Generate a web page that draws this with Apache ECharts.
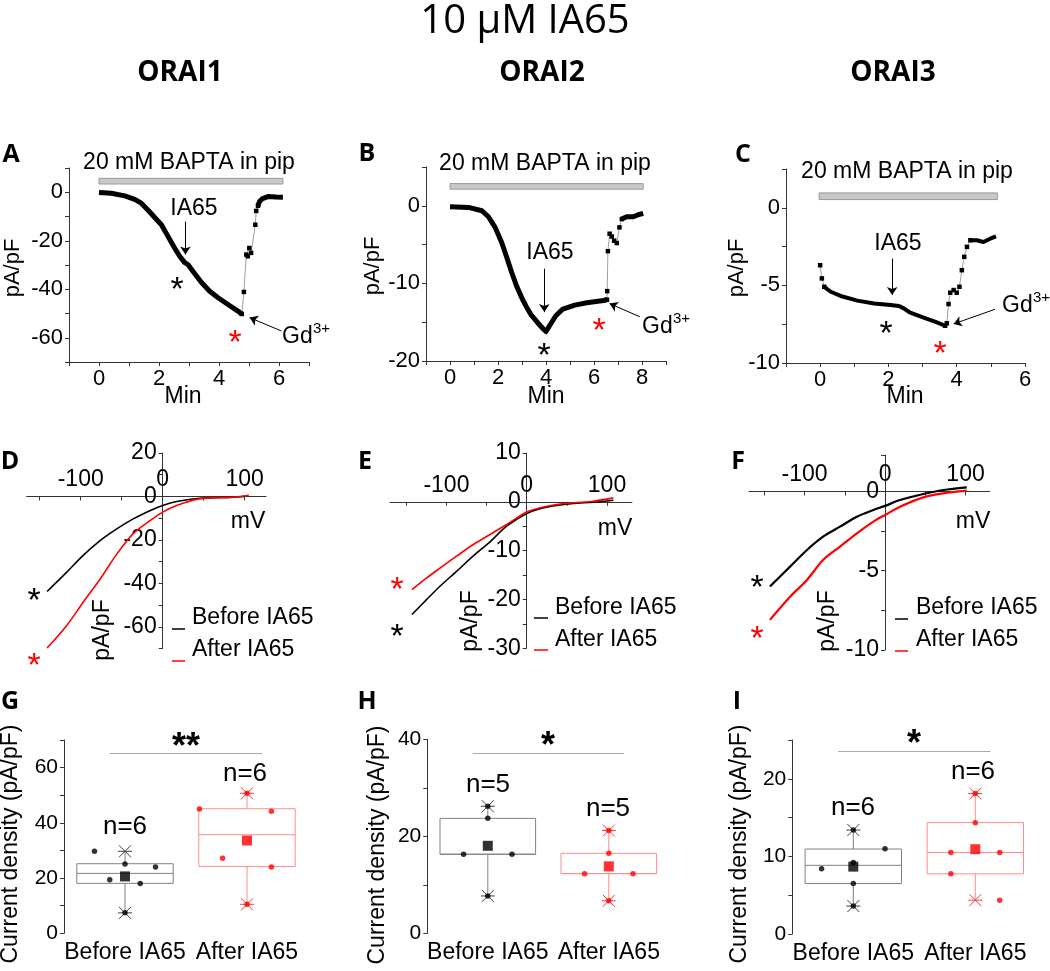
<!DOCTYPE html>
<html lang="en">
<head>
<meta charset="UTF-8" />
<title>10 μM IA65</title>
<script src="https://cdn.jsdelivr.net/npm/echarts@6.0.0/dist/echarts.min.js"></script>
<style>
  html, body { margin: 0; padding: 0; background: #fff; }
  #chart { width: 1050px; height: 971px; }
</style>
</head>
<body>
<div id="chart"></div>
<script>
// ---------- data ----------
// time courses, [min, pA/pF]
const orai1Trace = [[0,-0.15],[0.41,-0.42],[0.86,-1.5],[1.19,-2.9],[1.41,-4.5],[1.63,-7.3],[1.85,-10.3],[2.08,-13.4],[2.3,-18.2],[2.52,-23],[2.69,-26.4],[2.85,-28.9],[2.97,-29.9],[3.13,-32.6],[3.41,-37.1],[3.69,-40.8],[3.97,-43.5],[4.3,-46.3],[4.63,-49],[4.76,-50.2]];
const orai1Gd = [[4.76,-50.2],[4.83,-41.1],[4.91,-25.7],[4.96,-26.4],[5.01,-23],[5.07,-25],[5.21,-13.4],[5.24,-7.7],[5.3,-5.6]];
const orai1Tail = [[5.3,-5.6],[5.35,-3.8],[5.45,-2.6],[5.63,-1.8],[5.9,-2.0],[6.13,-2.07]];

const orai2Trace = [[0,-0.13],[0.78,-0.21],[1.33,-0.64],[1.6,-1.41],[1.88,-2.78],[2.15,-4.7],[2.36,-6.6],[2.56,-8.5],[2.77,-10.3],[2.98,-11.8],[3.18,-13.0],[3.39,-14.1],[3.66,-15.1],[3.9,-15.9],[4.0,-16.2],[4.2,-15.2],[4.4,-14.2],[4.7,-13.3],[5.2,-12.8],[5.7,-12.5],[6.4,-12.2],[6.54,-12.1]];
const orai2Gd = [[6.54,-12.1],[6.55,-11.0],[6.58,-5.85],[6.65,-3.6],[6.74,-3.96],[6.84,-4.5],[6.95,-4.8],[7.06,-2.78],[7.16,-1.71]];
const orai2Tail = [[7.16,-1.71],[7.36,-1.41],[7.64,-1.41],[7.84,-1.15],[8.05,-0.98]];

const orai3Start = [[0,-3.7],[0.05,-4.55],[0.12,-5.09]];
const orai3Trace = [[0.12,-5.09],[0.31,-5.41],[0.6,-5.68],[1.09,-5.98],[1.58,-6.16],[2.06,-6.26],[2.31,-6.33],[2.45,-6.48],[2.64,-6.76],[3.03,-7.07],[3.42,-7.39],[3.66,-7.6]];
const orai3Gd = [[3.66,-7.6],[3.71,-7.44],[3.76,-6.2],[3.81,-5.47],[3.91,-5.3],[4.0,-5.47],[4.08,-5.09],[4.15,-4.02],[4.22,-3.16],[4.3,-2.52],[4.4,-2.09]];
const orai3Tail = [[4.4,-2.09],[4.59,-2.09],[4.78,-2.2],[4.98,-1.99],[5.15,-1.84]];

// I-V curves, [mV, pA/pF]
const ivBefore1 = [[-141,-43.7],[-117,-34.8],[-97,-27.1],[-76,-20.2],[-56,-14.9],[-36,-10.3],[-15,-6.4],[0,-4.1],[17,-2.3],[45,-0.8],[86,-0.3],[100,0]];
const ivAfter1 = [[-141,-69.7],[-117,-59.3],[-97,-48.6],[-76,-37.8],[-56,-26.5],[-36,-17.1],[-15,-11],[0,-7.2],[17,-4.1],[45,-1.1],[86,-0.3],[105,0.6]];
const ivBefore2 = [[-143,-23.1],[-124.5,-20],[-108,-17.3],[-87,-14.2],[-66.5,-11.1],[-45.7,-8.2],[-25,-5.0],[0,-2.4],[16.6,-1.4],[37,-0.76],[58,-0.35],[83,-0.07],[108,0.33]];
const ivAfter2 = [[-143,-18.0],[-124.5,-15.6],[-108,-13.6],[-87,-11.1],[-66.5,-8.75],[-45.7,-6.7],[-25,-4.65],[0,-2.1],[16.6,-1.23],[37,-0.55],[58,-0.2],[83,0.12],[108,0.8]];
const ivBefore3 = [[-143,-6.0],[-118,-4.74],[-97,-3.69],[-77,-2.85],[-56,-2.22],[-35,-1.59],[-14.5,-1.17],[0,-0.91],[18.6,-0.54],[47.6,-0.16],[72.5,0.09],[101.5,0.26]];
const ivAfter3 = [[-143,-8.1],[-118,-6.64],[-97,-5.58],[-77,-4.32],[-56,-3.48],[-35,-2.64],[-14.5,-1.9],[0,-1.48],[18.6,-0.96],[47.6,-0.37],[72.5,-0.12],[101.5,0.05]];
const ivLabels = [-100, 0, 100];
const ivTicks = [-150, -100, -50, 0, 50, 100];

// current density per cell, pA/pF
const groups = ['Before IA65', 'After IA65'];
const orai1Before = [29.7, 19.4, 25.1, 18.0, 24.0, 7.4];
const orai1After = [45.0, 27.2, 50.7, 10.5, 44.2, 24.0];
const orai2Before = [16.3, 23.7, 16.3, 26.2, 7.7];
const orai2After = [12.3, 16.5, 12.3, 21.2, 6.7];
const orai3Before = [8.4, 13.4, 9.2, 6.5, 3.6, 11.0];
const orai3After = [10.5, 7.75, 14.35, 18.1, 10.5, 4.36];
// box [Q1, median, Q3] as drawn
const orai1Quart = [[18.1, 21.7, 25.2], [24.2, 35.7, 45.1]];
const orai2Quart = [[16.3, 16.3, 23.7], [12.3, 12.3, 16.5]];
const orai3Quart = [[6.5, 8.85, 10.95], [7.75, 10.5, 14.35]];
// sideways spread of the single points inside a group slot
const orai1Spread = [[-0.25, -0.125, 0, 0.125, 0.25, 0], [-0.39, -0.2, 0, 0, 0.2, 0.2]];
const orai2Spread = [[-0.2, 0, 0.2, 0, 0], [-0.2, 0, 0.2, 0, 0]];
const orai3Spread = [[-0.26, 0, 0, 0, 0, 0.26], [-0.2, -0.2, 0, 0, 0.2, 0.2]];

// ---------- layout ----------
const grids = [
  { left: 69, top: 168, width: 240, height: 194 },
  { left: 426, top: 167, width: 240, height: 194 },
  { left: 786, top: 169, width: 239, height: 194 },
  { left: 26.6, top: 453, width: 239.4, height: 195.7 },
  { left: 390.2, top: 453, width: 241.7, height: 195.2 },
  { left: 749, top: 455, width: 240.7, height: 195 },
  { left: 64, top: 740, width: 244, height: 193.3 },
  { left: 427.3, top: 739.3, width: 242, height: 194 },
  { left: 792.3, top: 740, width: 244, height: 194 }
];

// ---------- helpers ----------
const FONT = '"Liberation Sans", Arial, sans-serif';
const HEAD = '"Open Sans", "Noto Sans", sans-serif';
const AX = '#333';
const RED = '#ff0000';

const every = (step) => (v) => (Math.abs(v % step) < 1e-9 ? String(v) : '');
const mean = (a) => a.reduce((s, v) => s + v, 0) / a.length;

function timeX(i, min, max) {
  return {
    gridIndex: i, type: 'value', min, max, interval: 1,
    axisLine: { show: true, onZero: false, lineStyle: { color: AX } },
    axisTick: { show: true, length: 4, lineStyle: { color: AX } },
    axisLabel: { fontSize: 22, fontFamily: FONT, color: '#000', margin: 6, formatter: every(2) },
    splitLine: { show: false }
  };
}
function valueY(i, min, max, interval, step, size, offset) {
  return {
    gridIndex: i, type: 'value', min, max, interval, offset: offset || 0,
    axisLine: { show: true, onZero: false, lineStyle: { color: AX } },
    axisTick: { show: true, length: 4, lineStyle: { color: AX } },
    axisLabel: { fontSize: size, fontFamily: FONT, color: '#000', margin: 6, formatter: every(step) },
    splitLine: { show: false }
  };
}
// I-V axes cross at the origin: shift them from the grid edge onto zero
function ivX(i, min, max, ymax, ymin) {
  const g = grids[i];
  return {
    gridIndex: i, type: 'value', min, max, position: 'top',
    offset: -g.height * ymax / (ymax - ymin),
    axisLine: { show: true, onZero: false, lineStyle: { color: AX } },
    axisTick: { show: true, inside: true, length: 4, customValues: ivTicks, lineStyle: { color: AX } },
    axisLabel: { fontSize: 23, fontFamily: FONT, color: '#000', margin: 5, customValues: ivLabels },
    splitLine: { show: false }
  };
}
function ivY(i, min, max, interval, step, xmin, xmax) {
  const g = grids[i];
  return valueY(i, min, max, interval, step, 23, -g.width * (0 - xmin) / (xmax - xmin));
}
function groupX(i) {
  return {
    gridIndex: i, type: 'value', min: 0, max: 2,
    axisLine: { show: false }, axisTick: { show: false }, splitLine: { show: false },
    axisLabel: { fontSize: 23, fontFamily: FONT, color: '#000', margin: 8,
      customValues: [0.5, 1.5], formatter: (v) => groups[v < 1 ? 0 : 1] }
  };
}

function trace(i, data, marks) {
  const s = {
    type: 'line', xAxisIndex: i, yAxisIndex: i, data, showSymbol: false,
    lineStyle: { color: '#000', width: i === 2 ? 4 : 5, join: 'round' }, z: 3
  };
  if (marks) Object.assign(s, marks);
  return s;
}
function jump(i, data) {
  return {
    type: 'line', xAxisIndex: i, yAxisIndex: i, data, showSymbol: true, showAllSymbol: true,
    symbol: 'rect', symbolSize: 4.5, itemStyle: { color: '#000' },
    lineStyle: { color: '#a0a0a0', width: 1 }, z: 2
  };
}
function arrows(list) {
  return {
    silent: true, symbol: ['none', 'arrow'], symbolSize: 8,
    label: { show: false }, lineStyle: { color: '#000', width: 1, type: 'solid' },
    itemStyle: { color: '#000' },
    data: list.map(([a, b]) => [{ coord: a }, { coord: b }])
  };
}
function bar(x0, x1, y0, y1) {
  return {
    silent: true, itemStyle: { color: '#c8c8c8', borderColor: '#9a9a9a', borderWidth: 1 },
    data: [[{ coord: [x0, y0] }, { coord: [x1, y1] }]]
  };
}
function iv(i, data, color) {
  return {
    type: 'line', xAxisIndex: i, yAxisIndex: i, data, showSymbol: false, smooth: 0.3,
    lineStyle: { color, width: i === 5 ? 2.2 : 1.6 }
  };
}

function boxSeries(i, slot, quart, values, boxColor, markColor) {
  return {
    type: 'custom', xAxisIndex: i, yAxisIndex: i, z: 2,
    data: [[slot + 0.5, quart[0], quart[1], quart[2], Math.min(...values), Math.max(...values)]],
    encode: { x: 0, y: [1, 2, 3, 4, 5] },
    renderItem: (params, api) => {
      const xc = api.value(0);
      const q1 = api.coord([xc, api.value(1)]);
      const md = api.coord([xc, api.value(2)]);
      const q3 = api.coord([xc, api.value(3)]);
      const lo = api.coord([xc, api.value(4)]);
      const hi = api.coord([xc, api.value(5)]);
      const hw = api.size([0.79, 0])[0] / 2;
      const cx = q1[0];
      const ln = (x1, y1, x2, y2, c) => ({ type: 'line', shape: { x1, y1, x2, y2 }, style: { stroke: c, lineWidth: 1 } });
      const cross = (y) => [
        ln(cx - 7, y, cx + 7, y, markColor),
        ln(cx - 6, y - 6, cx + 6, y + 6, markColor),
        ln(cx - 6, y + 6, cx + 6, y - 6, markColor)
      ];
      return {
        type: 'group',
        children: [
          { type: 'rect', shape: { x: cx - hw, y: q3[1], width: 2 * hw, height: q1[1] - q3[1] },
            style: { fill: 'none', stroke: boxColor, lineWidth: 1 } },
          ln(cx - hw, md[1], cx + hw, md[1], boxColor),
          ln(cx, q3[1], cx, hi[1], boxColor),
          ln(cx, q1[1], cx, lo[1], boxColor),
          ...cross(hi[1]), ...cross(lo[1])
        ]
      };
    }
  };
}
function dots(i, slot, values, spread, color) {
  return {
    type: 'scatter', xAxisIndex: i, yAxisIndex: i, z: 4, symbol: 'circle', symbolSize: 5.5,
    itemStyle: { color }, data: values.map((v, k) => [slot + 0.5 + spread[k], v])
  };
}
function meanMark(i, slot, values, color, sigY) {
  const s = {
    type: 'scatter', xAxisIndex: i, yAxisIndex: i, z: 5, symbol: 'rect', symbolSize: 10,
    itemStyle: { color }, data: [[slot + 0.5, mean(values)]]
  };
  if (sigY !== undefined) {
    s.markLine = {
      silent: true, symbol: 'none', label: { show: false },
      lineStyle: { color: '#aaa', width: 1, type: 'solid' },
      data: [[{ coord: [0.375, sigY] }, { coord: [1.625, sigY] }]]
    };
  }
  return s;
}

// text helpers for annotations
function txt(x, y, s, size, o = {}) {
  return {
    type: 'text', x, y, rotation: o.rot || 0, silent: true, z: 10,
    style: {
      text: s, font: (o.bold ? 'bold ' : '') + size + 'px ' + (o.family || FONT),
      fill: o.color || '#000', textAlign: o.align || 'center', textVerticalAlign: 'middle'
    }
  };
}
const star = (x, y, s, color, size, bold) => txt(x, y + 0.22 * size, s, size, { color, bold });
const seg = (x1, x2, y, c) => ({ type: 'line', silent: true, z: 10, shape: { x1, y1: y, x2, y2: y }, style: { stroke: c, lineWidth: 1.5 } });
const gd = (x, y) => [txt(x, y, 'Gd', 23, { align: 'left' }), txt(x + 31, y - 8, '3+', 15, { align: 'left' })];
const vert = (x, y, s, size) => txt(x, y, s, size, { rot: Math.PI / 2 });

const graphic = [
  txt(525, 22, '10 μM IA65', 40, { family: HEAD }),
  txt(180, 73, 'ORAI1', 28, { bold: true, family: HEAD }),
  txt(542, 73, 'ORAI2', 28, { bold: true, family: HEAD }),
  txt(893, 73, 'ORAI3', 28, { bold: true, family: HEAD }),
  ...[['A', 11, 155], ['B', 367, 154], ['C', 743, 155], ['D', 10, 462], ['E', 365, 462], ['F', 738, 462],
      ['G', 10, 702], ['H', 367, 702], ['I', 737, 702]].map(([l, x, y]) => txt(x, y, l, 25, { bold: true, family: HEAD })),
  // time-course panels
  txt(189, 163, '20 mM BAPTA in pip', 23), txt(545, 164, '20 mM BAPTA in pip', 23), txt(907, 172, '20 mM BAPTA in pip', 23),
  txt(194, 209, 'IA65', 23), txt(550, 253, 'IA65', 23), txt(898, 244, 'IA65', 23),
  ...gd(282, 337), ...gd(642, 327), ...gd(1002, 306),
  txt(183, 397, 'Min', 23), txt(546, 397, 'Min', 23), txt(905, 397, 'Min', 23),
  vert(13, 268, 'pA/pF', 22), vert(373, 266, 'pA/pF', 22), vert(737, 268, 'pA/pF', 22),
  star(177, 283, '*', '#000', 34), star(235, 336, '*', RED, 34),
  star(544, 349, '*', '#000', 34), star(599, 324, '*', RED, 34),
  star(886, 327, '*', '#000', 34), star(940, 347, '*', RED, 34),
  // I-V panels
  txt(248, 522, 'mV', 23), txt(615, 529, 'mV', 23), txt(973, 522, 'mV', 23),
  vert(103, 630, 'pA/pF', 23), vert(471, 621, 'pA/pF', 23), vert(828, 621, 'pA/pF', 23),
  star(34, 594, '*', '#000', 34), star(34, 659, '*', RED, 34),
  star(397, 583, '*', RED, 34), star(397, 630, '*', '#000', 34),
  star(757, 581, '*', '#000', 34), star(757, 632, '*', RED, 34),
  seg(172, 185, 629, '#000'), seg(172, 185, 661, RED),
  txt(192, 618, 'Before IA65', 23, { align: 'left' }), txt(192, 650, 'After IA65', 23, { align: 'left' }),
  seg(534, 548, 618, '#000'), seg(534, 548, 650, RED),
  txt(555, 608, 'Before IA65', 23, { align: 'left' }), txt(555, 640, 'After IA65', 23, { align: 'left' }),
  seg(895, 908, 619, '#000'), seg(895, 908, 651, RED),
  txt(916, 608, 'Before IA65', 23, { align: 'left' }), txt(916, 640, 'After IA65', 23, { align: 'left' }),
  // box panels
  vert(11, 844, 'Current density (pA/pF)', 23), vert(378, 845, 'Current density (pA/pF)', 23), vert(740, 844, 'Current density (pA/pF)', 23),
  star(186, 740, '**', '#000', 36, true), star(548, 739, '*', '#000', 36, true), star(914, 737, '*', '#000', 36, true),
  txt(125, 827, 'n=6', 26), txt(245, 774, 'n=6', 26),
  txt(488, 785, 'n=5', 26), txt(608, 809, 'n=5', 26),
  txt(853, 808, 'n=6', 26), txt(973, 772, 'n=6', 26)
];

const option = {
  animation: false,
  backgroundColor: '#fff',
  grid: grids.map((g) => Object.assign({}, g, { outerBoundsMode: 'none', containLabel: false })),
  xAxis: [
    timeX(0, -1, 7), timeX(1, -1, 9), timeX(2, -1, 6),
    ivX(3, -166, 126, 20, -70), ivX(4, -170, 131, 10, -30), ivX(5, -169, 130, 2.3, -10),
    groupX(6), groupX(7), groupX(8)
  ],
  yAxis: [
    valueY(0, -70, 10, 10, 20, 22), valueY(1, -20, 5, 5, 10, 22), valueY(2, -10, 2.5, 2.5, 5, 22),
    ivY(3, -70, 20, 10, 20, -166, 126), ivY(4, -30, 10, 5, 10, -170, 131), ivY(5, -10, 2.3, 2.5, 5, -169, 130),
    valueY(6, 0, 70, 10, 20, 21), valueY(7, 0, 40, 10, 20, 21), valueY(8, 0, 25, 5, 10, 21)
  ],
  series: [
    trace(0, orai1Trace, {
      markArea: bar(0, 6.13, 3.4, 5.75),
      markLine: arrows([[[2.88, -12.1], [2.88, -25.7]], [[6.08, -57.2], [5.02, -51.7]]])
    }),
    jump(0, orai1Gd), trace(0, orai1Tail),
    trace(1, orai2Trace, {
      markArea: bar(0, 8.05, 2.14, 2.86),
      markLine: arrows([[[3.93, -8.1], [3.93, -13.7]], [[7.91, -14.3], [6.65, -12.6]]])
    }),
    jump(1, orai2Gd), trace(1, orai2Tail),
    jump(2, orai3Start),
    trace(2, orai3Trace, {
      markArea: bar(-0.03, 5.19, 0.53, 0.96),
      markLine: arrows([[[2.11, -3.27], [2.11, -5.62]], [[5.12, -6.54], [3.91, -7.48]]])
    }),
    jump(2, orai3Gd), trace(2, orai3Tail),

    iv(3, ivBefore1, '#000'), iv(3, ivAfter1, RED),
    iv(4, ivBefore2, '#000'), iv(4, ivAfter2, RED),
    iv(5, ivBefore3, '#000'), iv(5, ivAfter3, RED),

    boxSeries(6, 0, orai1Quart[0], orai1Before, '#808080', '#404040'),
    boxSeries(6, 1, orai1Quart[1], orai1After, '#ff8c8c', '#ff3b3b'),
    dots(6, 0, orai1Before, orai1Spread[0], '#000'), dots(6, 1, orai1After, orai1Spread[1], RED),
    meanMark(6, 0, orai1Before, '#000', 65.1), meanMark(6, 1, orai1After, RED),

    boxSeries(7, 0, orai2Quart[0], orai2Before, '#808080', '#404040'),
    boxSeries(7, 1, orai2Quart[1], orai2After, '#ff8c8c', '#ff3b3b'),
    dots(7, 0, orai2Before, orai2Spread[0], '#000'), dots(7, 1, orai2After, orai2Spread[1], RED),
    meanMark(7, 0, orai2Before, '#000', 37.2), meanMark(7, 1, orai2After, RED),

    boxSeries(8, 0, orai3Quart[0], orai3Before, '#808080', '#404040'),
    boxSeries(8, 1, orai3Quart[1], orai3After, '#ff8c8c', '#ff3b3b'),
    dots(8, 0, orai3Before, orai3Spread[0], '#000'), dots(8, 1, orai3After, orai3Spread[1], RED),
    meanMark(8, 0, orai3Before, '#000', 23.5), meanMark(8, 1, orai3After, RED)
  ],
  graphic
};

const chart = echarts.init(document.getElementById('chart'));
chart.setOption(option);
</script>
</body>
</html>
